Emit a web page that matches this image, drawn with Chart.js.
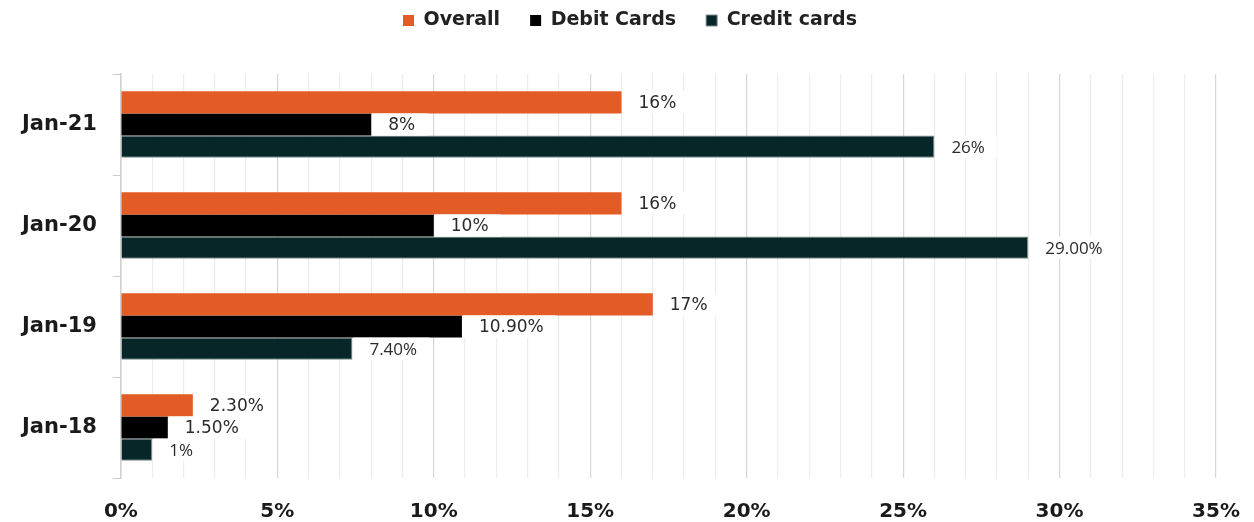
<!DOCTYPE html>
<html>
<head>
<meta charset="utf-8">
<script src="https://cdn.jsdelivr.net/npm/chart.js@4"></script>
<style>
html,body{margin:0;padding:0;background:#fff;}
#wrap{width:1254px;height:522px;}
</style>
</head>
<body>
<div id="wrap"><canvas id="c" width="1254" height="522"></canvas></div>
<script>
const categories = ["Jan-21", "Jan-20", "Jan-19", "Jan-18"];
const overall = [16, 16, 17, 2.3];
const debitCards = [8, 10, 10.9, 1.5];
const creditCards = [26, 29, 7.4, 1];
const overallLabels = ["16%", "16%", "17%", "2.30%"];
const debitLabels = ["8%", "10%", "10.90%", "1.50%"];
const creditLabels = ["26%", "29.00%", "7.40%", "1%"];
const xTicks = [0, 5, 10, 15, 20, 25, 30, 35];

const labelSets = [overallLabels, debitLabels, creditLabels];
const labelFonts = ['17px "DejaVu Sans"', '17px "DejaVu Sans"', '17px "Open Sans"'];

const labelPlugin = {
  id: 'barLabels',
  afterDatasetsDraw(chart) {
    const ctx = chart.ctx;
    chart.data.datasets.forEach((ds, di) => {
      const meta = chart.getDatasetMeta(di);
      meta.data.forEach((bar, i) => {
        const txt = labelSets[di][i];
        ctx.save();
        ctx.font = labelFonts[di];
        const w = ctx.measureText(txt).width;
        const h = bar.height;
        const x0 = bar.x;
        ctx.fillStyle = '#ffffff';
        ctx.fillRect(x0 + 1, bar.y - h / 2, w + 28, h);
        ctx.fillStyle = '#2b2b2b';
        ctx.textBaseline = 'middle';
        ctx.textAlign = 'left';
        ctx.fillText(txt, x0 + 17, bar.y + 1);
        ctx.restore();
      });
    });
  }
};

const legendGap = {
  id: 'legendGap',
  beforeInit(chart) {
    const orig = chart.legend.fit;
    chart.legend.fit = function () {
      orig.call(this);
      this.height += 34;
    };
  }
};

new Chart(document.getElementById('c'), {
  type: 'bar',
  data: {
    labels: categories,
    datasets: [
      { label: 'Overall', data: overall, backgroundColor: '#E35B25', borderWidth: 0 },
      { label: 'Debit Cards', data: debitCards, backgroundColor: '#000000', borderWidth: 0 },
      { label: 'Credit cards', data: creditCards, backgroundColor: '#062628', borderColor: '#7d8c8c', borderWidth: 1 }
    ]
  },
  options: {
    indexAxis: 'y',
    responsive: false,
    animation: false,
    devicePixelRatio: 1,
    layout: { padding: { left: 6, right: 0, top: -19, bottom: -24 } },
    datasets: { bar: { categoryPercentage: 0.66, barPercentage: 1.0 } },
    plugins: {
      legend: {
        position: 'top',
        labels: {
          boxWidth: 11, boxHeight: 11, padding: 30,
          color: '#222',
          font: { family: '"DejaVu Sans"', size: 19, weight: 'bold' }
        }
      },
      tooltip: { enabled: false }
    },
    scales: {
      x: {
        min: 0, max: 35,
        afterFit: (scale) => { scale.paddingRight = 38; },
        ticks: {
          stepSize: 1,
          autoSkip: false,
          maxRotation: 0,
          padding: 22,
          color: '#1a1a1a',
          font: { family: '"DejaVu Sans"', size: 20, weight: 'bold' },
          callback: (v) => (xTicks.includes(v) ? v + '%' : '')
        },
        grid: {
          drawTicks: false,
          color: (c) => (c.tick && c.tick.value % 5 === 0 ? '#d6d6d6' : '#ececec'),
          lineWidth: 1.2
        },
        border: { display: false }
      },
      y: {
        ticks: {
          padding: 16,
          color: '#1a1a1a',
          font: { family: '"DejaVu Sans"', size: 21, weight: 'bold' }
        },
        grid: {
          offset: true,
          drawOnChartArea: false,
          drawTicks: true,
          tickLength: 8,
          color: '#cccccc'
        },
        border: { display: true, color: '#d0d0d0', width: 1.5 }
      }
    }
  },
  plugins: [labelPlugin, legendGap]
});
</script>
</body>
</html>
